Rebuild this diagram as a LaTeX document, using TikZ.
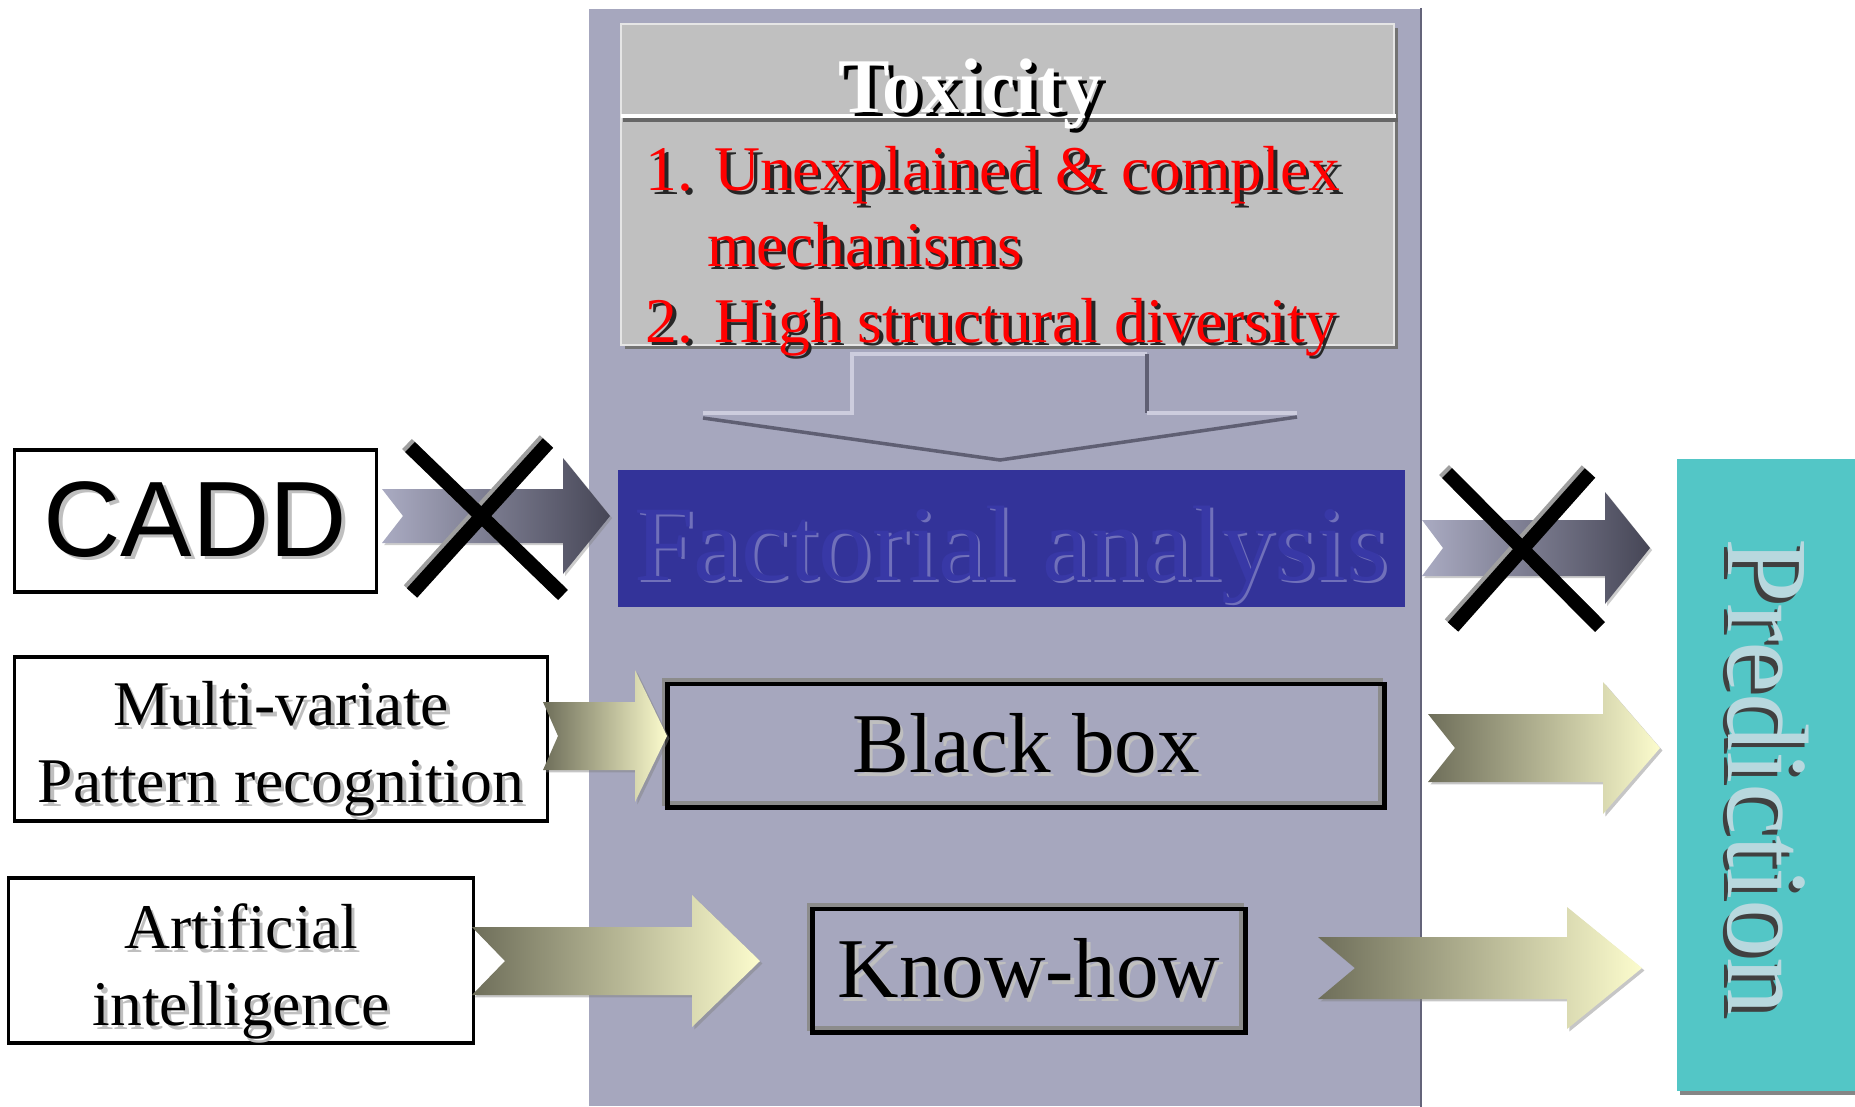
\documentclass[tikz,border=0pt]{standalone}
\usepackage{fontspec}
\setmainfont{Liberation Serif}
\newfontfamily\caddfont{Liberation Sans}
\usetikzlibrary{shadows}

\definecolor{panelgray}{RGB}{166,167,190}
\definecolor{panelline}{RGB}{100,100,122}
\definecolor{toxgray}{RGB}{192,192,192}
\definecolor{factblue}{RGB}{51,51,153}
\definecolor{facttextc}{RGB}{56,56,166}
\definecolor{factlight}{RGB}{112,112,186}
\definecolor{predteal}{RGB}{83,198,198}
\definecolor{predtextc}{RGB}{184,216,222}
\definecolor{arrowlight}{RGB}{170,171,194}
\definecolor{arrowdark}{RGB}{70,70,86}
\definecolor{olivedark}{RGB}{110,110,90}
\definecolor{creamlight}{RGB}{252,252,205}
\definecolor{edgelight}{RGB}{205,205,222}
\definecolor{edgedark}{RGB}{95,95,115}

% text with a shifted copy behind it
\newcommand\shadowtext[4][1pt]{\makebox[0pt][l]{\hspace*{#1}\raisebox{-#1}{\color{#2}#4}}{\color{#3}#4}}
% notched fat arrow: style, start, length, shaft, head, head length, notch
\newcommand\fatarrow[7]{\path[#1,shift={(#2)}] (0,-#4) -- (#3-#6,-#4) -- (#3-#6,-#5) -- (#3,0) -- (#3-#6,#5) -- (#3-#6,#4) -- (0,#4) -- (#7,0) -- cycle;}

\begin{document}
\begin{tikzpicture}[x=0.01cm,y=-0.01cm,
  textbox/.style={rectangle,draw,line width=0.9pt,fill=white,inner sep=0pt},
  boxtext/.style={anchor=north,align=center,inner sep=0pt,font=\fontsize{18.1}{21.9}\selectfont},
  darkbox/.style={rectangle,draw,line width=1.4pt,inner sep=0pt,
    drop shadow={shadow xshift=-1pt,shadow yshift=1pt,fill=none,draw=black!45,line width=1.4pt,opacity=1}},
  toxbox/.style={rectangle,fill=toxgray,draw=white!80!gray,line width=0.6pt,inner sep=0pt,
    drop shadow={shadow xshift=1.2pt,shadow yshift=-1.2pt,fill=black!55,opacity=1}},
  predbox/.style={rectangle,fill=predteal,inner sep=0pt,
    drop shadow={shadow xshift=1pt,shadow yshift=-1pt,fill=black!60,opacity=0.8}},
  greyarrow/.style={left color=arrowlight,right color=arrowdark,
    drop shadow={shadow xshift=0.6pt,shadow yshift=-0.6pt,opacity=0.4}},
  creamarrow/.style={left color=olivedark,right color=creamlight,
    drop shadow={shadow xshift=0.7pt,shadow yshift=-0.7pt,opacity=0.45}},
  crossline/.style={line width=4pt,black},
  crossshade/.style={line width=4pt,gray!75},
  lightedge/.style={draw=edgelight,line width=1pt},
  darkedge/.style={draw=edgedark,line width=1pt}]
  \useasboundingbox (0,0) rectangle (1855,1106);
  % draw background panel
  \node at(1004.5,557.5)[rectangle,fill=panelgray,minimum width=8.31cm,minimum height=10.97cm,inner sep=0pt](panel){};
  \draw[panelline,line width=0.8pt] (panel.north east) -- (panel.south east);
  % draw toxicity box
  \node at(1007.5,184.5)[toxbox,minimum width=7.73cm,minimum height=3.21cm](tox){};
  \draw[black!60,line width=1.2pt] (623,120) -- (1398,120);
  \draw[white,line width=1.2pt] (621,116) -- (1396,116);
  \node at(970,112)[anchor=base,font=\fontsize{22}{26}\selectfont\bfseries](toxtitle){\shadowtext[1.4pt]{black}{white}{Toxicity}};
  \node at(645,146)[anchor=north west,align=left,inner sep=0pt,font=\fontsize{18.1}{21.5}\selectfont](toxlist){%
    \shadowtext{black!85}{red}{1. Unexplained \& complex}\\
    \shadowtext{black!85}{red}{\hspace*{0.97em}mechanisms}\\
    \shadowtext{black!85}{red}{2. High structural diversity}};
  % draw hollow down arrow
  \draw[lightedge] (703,413) -- (852,413) -- (852,354) -- (1147,354);
  \draw[darkedge] (1147,354) -- (1147,413);
  \draw[lightedge] (1147,413) -- (1297,413);
  \draw[darkedge] (703,418) -- (1000,460) -- (1297,417);
  % draw factorial analysis
  \node at(1011.5,538.5)[rectangle,fill=factblue,minimum width=7.87cm,minimum height=1.37cm,inner sep=0pt](fact){};
  \node at(1011,580)[anchor=base,font=\fontsize{30.5}{36}\selectfont](facttext){\shadowtext[0.8pt]{factlight}{facttextc}{Factorial analysis}};
  % draw left boxes
  \node at(195.5,521)[textbox,minimum width=3.61cm,minimum height=1.42cm,font=\caddfont\fontsize{30.5}{36}\selectfont](cadd){\shadowtext{black!25}{black}{CADD}};
  \node at(281,739)[textbox,minimum width=5.32cm,minimum height=1.64cm](multi){};
  \node at(281,681)[boxtext](multitext){\shadowtext{black!25}{black}{Multi-variate}\\\shadowtext{black!25}{black}{Pattern recognition}};
  \node at(241,960.5)[textbox,minimum width=4.64cm,minimum height=1.65cm](ai){};
  \node at(241,903)[boxtext](aitext){\shadowtext{black!25}{black}{Artificial}\\\shadowtext{black!25}{black}{intelligence}};
  % draw middle boxes
  \node at(1026,745.5)[darkbox,minimum width=7.16cm,minimum height=1.23cm,font=\fontsize{24.2}{29}\selectfont](blackbox){\shadowtext{black!25}{black}{Black box}};
  \node at(1029,970.5)[darkbox,minimum width=4.32cm,minimum height=1.23cm,font=\fontsize{24.2}{29}\selectfont](knowhow){\shadowtext{black!25}{black}{Know-how}};
  % draw prediction
  \node at(1766,775)[predbox,minimum width=1.78cm,minimum height=6.32cm](pred){};
  \node at(1766,777)[rotate=-90,font=\fontsize{33}{38}\selectfont](predlabel){\shadowtext[1.3pt]{black!75}{predtextc}{Prediction}};
  % draw arrows
  \coordinate (caddout) at (382,516);
  \coordinate (factout) at (1422,548);
  \coordinate (multiout) at (543,736);
  \coordinate (aiout) at (472,961);
  \coordinate (blackout) at (1428,748);
  \coordinate (knowout) at (1318,968);
  \fatarrow{greyarrow}{caddout}{228}{27}{58}{47}{21}
  \fatarrow{greyarrow}{factout}{228}{28}{56}{45}{21}
  \fatarrow{creamarrow}{multiout}{124}{34}{66}{32}{15}
  \fatarrow{creamarrow}{aiout}{288}{34}{66}{68}{33}
  \fatarrow{creamarrow}{blackout}{232}{34}{66}{57}{27}
  \fatarrow{creamarrow}{knowout}{324}{31}{61}{75}{37}
  % draw crosses
  \draw[crossshade] (407,444) -- (560,592);
  \draw[crossshade] (545,440) -- (409,590);
  \draw[crossline] (410,447) -- (563,595);
  \draw[crossline] (548,443) -- (412,593);
  \draw[crossshade] (1444,470) -- (1597,624);
  \draw[crossshade] (1587,470) -- (1450,624);
  \draw[crossline] (1447,473) -- (1600,627);
  \draw[crossline] (1590,473) -- (1453,627);
\end{tikzpicture}
\end{document}
